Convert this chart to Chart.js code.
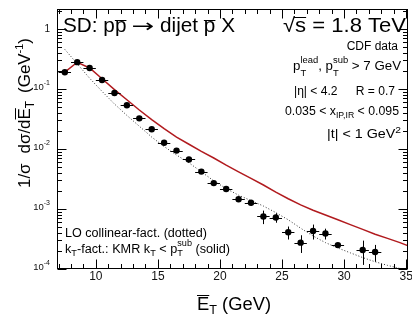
<!DOCTYPE html>
<html><head><meta charset="utf-8">
<script src="https://cdn.jsdelivr.net/npm/chart.js@4.4.1/dist/chart.umd.min.js"></script>
<style>html,body{margin:0;padding:0;background:#fff;overflow:hidden}#wrap{width:412px;height:322px}</style>
</head><body><div id="wrap"><canvas id="c" width="412" height="322"></canvas></div>
<script>
// ---- data ----
const binCenters = [7.5,8.5,9.5,10.5,11.5,12.5,13.5,14.5,15.5,16.5,17.5,18.5,19.5,20.5,21.5,22.5,23.5,24.5,25.5,26.5,27.5,28.5,29.5,31.5,32.5];
const cdfValues  = [0.19,0.28,0.224,0.141,0.0858,0.0536,0.0324,0.0213,0.0127,0.0094,0.0067,0.0042,0.0027,0.00215,0.00145,0.00127,0.00075,0.00072,0.00041,0.000275,0.00043,0.00039,0.00025,0.000207,0.000192];
const cdfErrors  = [0.008,0.01,0.008,0.005,0.003,0.002,0.0012,0.0008,0.0005,0.0004,0.0003,0.0002,0.00015,0.00013,0.00012,0.00013,0.00019,0.00013,0.0001,0.00009,0.00012,0.00008,0.00002,0.00009,0.00006];
const binHalfWidth = 0.5;
const curveX   = [7.5,8.5,9.5,10.5,11.5,12.5,13.5,14.5,15.5,16.5,17.5,18.5,19.5,20.5,21.5,22.5,23.5,24.5,25.5,26.5,27.5,28.5,29.5,30.5,31.5,32.5,33.5,34.5,35.5];
const kmrSolid = [0.191,0.279,0.224,0.148,0.0977,0.0661,0.0447,0.0309,0.0219,0.0158,0.0120,0.00912,0.00708,0.00537,0.00417,0.00324,0.00251,0.00191,0.00148,0.00117,0.000955,0.000794,0.000661,0.000550,0.000457,0.000380,0.000324,0.000275,0.000229];
const loDotted = [0.457,0.263,0.151,0.0912,0.0562,0.0363,0.0240,0.0158,0.0110,0.00794,0.00589,0.00417,0.00295,0.00219,0.00170,0.00138,0.00112,0.000871,0.000661,0.000479,0.000355,0.000275,0.000224,0.000186,0.000155,0.000132,0.000115,0.000102,0.0000912];
const xTickLabels = [10,15,20,25,30,35];
const yTickLabels = [{v:1,m:'1',e:''},{v:0.1,m:'10',e:'-1'},{v:0.01,m:'10',e:'-2'},{v:0.001,m:'10',e:'-3'},{v:0.0001,m:'10',e:'-4'}];
const xRange = [6.87, 35.15];
const yRange = [1e-4, 2.154];

const FONT = '"Liberation Sans", Arial, Helvetica, sans-serif';
function fnt(p){ return p.f + 'px ' + (p.ff || FONT); }
function partWidth(ctx, p){
  if (p.gap) return p.gap;
  if (p.st) return Math.max.apply(null, p.st.map(q => partWidth(ctx, q)));
  ctx.font = fnt(p); return ctx.measureText(p.t).width * (p.sx || 1);
}
function drawRich(ctx, parts, x, y, align, fitW){
  let total = 0; parts.forEach(p => total += partWidth(ctx, p));
  const sx = fitW ? fitW / total : 1;
  const shown = total * sx;
  const left = align === 'right' ? x - shown : (align === 'center' ? x - shown/2 : x);
  ctx.save();
  ctx.translate(left, y); ctx.scale(sx, 1);
  ctx.textAlign = 'left'; ctx.textBaseline = 'alphabetic';
  let cx = 0;
  const drawOne = (p, px) => {
    ctx.font = fnt(p);
    const w = ctx.measureText(p.t).width * (p.sx || 1);
    ctx.save(); ctx.translate(px, (p.dy || 0)); ctx.scale(p.sx || 1, 1);
    ctx.fillText(p.t, 0, 0);
    ctx.restore();
    if (p.ov){
      ctx.beginPath(); ctx.lineWidth = 1;
      ctx.moveTo(px + (p.ovl||0), -p.ov + 0.5); ctx.lineTo(px + w + (p.ovr||0), -p.ov + 0.5); ctx.stroke();
    }
  };
  parts.forEach(p => {
    const w = partWidth(ctx, p);
    if (p.st) p.st.forEach(q => drawOne(q, cx));
    else if (!p.gap) drawOne(p, cx);
    cx += w;
  });
  ctx.restore();
}

const rootPlugin = {
  id: 'rootStyle',
  afterDatasetsDraw(chart){
    const ctx = chart.ctx, xs = chart.scales.x, ys = chart.scales.y;
    ctx.save();
    ctx.strokeStyle = '#000'; ctx.lineWidth = 1;
    binCenters.forEach((bx, i) => {
      const px = xs.getPixelForValue(bx), py = ys.getPixelForValue(cdfValues[i]);
      const x0 = xs.getPixelForValue(bx - binHalfWidth), x1 = xs.getPixelForValue(bx + binHalfWidth);
      const y0 = ys.getPixelForValue(cdfValues[i] + cdfErrors[i]), y1 = ys.getPixelForValue(cdfValues[i] - cdfErrors[i]);
      ctx.beginPath();
      ctx.moveTo(x0, Math.round(py)+0.5); ctx.lineTo(x1, Math.round(py)+0.5);
      ctx.moveTo(Math.round(px)+0.5, y0); ctx.lineTo(Math.round(px)+0.5, y1);
      ctx.stroke();
    });
    ctx.restore();
  },
  afterDraw(chart){
    const ctx = chart.ctx, a = chart.chartArea, xs = chart.scales.x, ys = chart.scales.y;
    ctx.save();
    ctx.strokeStyle = '#000'; ctx.fillStyle = '#000'; ctx.lineWidth = 1;
    const L = Math.round(a.left)+0.5, R = Math.round(a.right)-0.5, T = Math.round(a.top)+0.5, B = Math.round(a.bottom)-0.5;
    ctx.strokeRect(L, T, R-L, B-T);
    ctx.beginPath();
    for (let n = -4; n <= 0; n++){
      for (let k = 1; k <= 9; k++){
        const v = k * Math.pow(10, n);
        if (v < yRange[0] || v > yRange[1]) continue;
        const y = Math.round(ys.getPixelForValue(v)) + 0.5;
        const len = k === 1 ? 9 : 4.5;
        ctx.moveTo(L, y); ctx.lineTo(L + len, y);
        ctx.moveTo(R, y); ctx.lineTo(R - len, y);
      }
    }
    for (let v = Math.ceil(xRange[0]); v <= xRange[1]; v++){
      const x = Math.round(xs.getPixelForValue(v)) + 0.5;
      const len = v % 5 === 0 ? 9 : 4.5;
      ctx.moveTo(x, B); ctx.lineTo(x, B - len);
      ctx.moveTo(x, T); ctx.lineTo(x, T + len);
    }
    ctx.stroke();
    ctx.fillStyle = '#111';
    xTickLabels.forEach(v => {
      drawRich(ctx, [{t:String(v), f:12}], xs.getPixelForValue(v), 280, 'center');
    });
    yTickLabels.forEach(o => {
      const y = ys.getPixelForValue(o.v);
      if (o.e) drawRich(ctx, [{t:o.m, f:9.5},{t:o.e, f:7, dy:-5}], 50, y + 1, 'right');
      else drawRich(ctx, [{t:o.m, f:10}], 50, y + 3, 'right');
    });
    ctx.fillStyle = '#000'; ctx.strokeStyle = '#000';
    // titles
    drawRich(ctx, [{t:'SD: p', f:20},{t:'p', f:20, ov:12},{gap:5},{t:'\u2192', f:18, ff:'"DejaVu Sans", sans-serif', sx:1.45},{t:' dijet ', f:20},{t:'p', f:20, ov:12},{t:' X', f:20}], 63, 32, 'left', 172);
    drawRich(ctx, [{t:'\u221A', f:20},{t:'s', f:20, ov:15, ovl:-1},{t:' = 1.8 TeV', f:20}], 406, 32, 'right', 123);
    drawRich(ctx, [{t:'CDF data', f:12}], 398, 50, 'right');
    drawRich(ctx, [{t:'p', f:12},{st:[{t:'lead', f:8.5, dy:-7},{t:'T', f:8.5, dy:6}]},{t:', p', f:12},{st:[{t:'sub', f:8.5, dy:-7},{t:'T', f:8.5, dy:6}]},{t:' > 7 GeV', f:12}], 401, 70, 'right', 108);
    drawRich(ctx, [{t:'|\u03B7| < 4.2', f:12},{gap:18},{t:'R = 0.7', f:12}], 395, 95, 'right', 101);
    drawRich(ctx, [{t:'0.035 < x', f:12},{t:'IP,IR', f:8.5, dy:3},{t:' < 0.095', f:12}], 399, 115, 'right', 114);
    drawRich(ctx, [{t:'|t| < 1 GeV', f:12.5},{t:'2', f:9, dy:-5}], 401, 138, 'right', 74);
    drawRich(ctx, [{t:'LO collinear-fact. (dotted)', f:12.5}], 65, 237, 'left', 142);
    drawRich(ctx, [{t:'k', f:12.5},{t:'T', f:9, dy:3},{t:'-fact.: KMR k', f:12.5},{t:'T', f:9, dy:3},{t:' < p', f:12.5},{st:[{t:'sub', f:9, dy:-7},{t:'T', f:9, dy:3}]},{t:' (solid)', f:12.5}], 65, 253, 'left', 165);
    // axis titles
    drawRich(ctx, [{t:'E', f:17.5, ov:15},{t:'T', f:12, dy:4},{t:' (GeV)', f:17.5}], 197, 310, 'left', 74);
    ctx.save();
    ctx.translate(30, 113); ctx.rotate(-Math.PI/2);
    drawRich(ctx, [{t:'1/\u03C3', f:17},{gap:10},{t:'d\u03C3/d', f:17},{t:'E', f:17, ov:15},{t:'T', f:12, dy:4},{gap:8},{t:'(GeV', f:17},{t:'-1', f:11, dy:-7},{t:')', f:17}], 0, 0, 'center', 150);
    ctx.restore();
    ctx.restore();
  }
};

new Chart(document.getElementById('c').getContext('2d'), {
  type: 'line',
  data: {
    datasets: [
      { label: 'CDF data', data: binCenters.map((x, i) => ({x: x, y: cdfValues[i]})), showLine: false,
        pointRadius: 3.2, pointBackgroundColor: '#000', pointBorderColor: '#000', pointBorderWidth: 0, borderWidth: 0 },
      { label: 'kT-fact. KMR (solid)', data: curveX.map((x, i) => ({x: x, y: kmrSolid[i]})),
        borderColor: '#b11a1e', borderWidth: 1.5, pointRadius: 0, tension: 0, fill: false },
      { label: 'LO collinear-fact. (dotted)', data: curveX.map((x, i) => ({x: x, y: loDotted[i]})),
        borderColor: '#333', borderWidth: 1, borderDash: [1, 2], pointRadius: 0, tension: 0, fill: false }
    ]
  },
  options: {
    responsive: false, animation: false, devicePixelRatio: 1, events: [],
    layout: { padding: { left: 57, top: 9, right: 3.5, bottom: 53 } },
    scales: {
      x: { type: 'linear', min: xRange[0], max: xRange[1], display: false },
      y: { type: 'logarithmic', min: yRange[0], max: yRange[1], display: false }
    },
    plugins: { legend: { display: false }, tooltip: { enabled: false } }
  },
  plugins: [rootPlugin]
});
</script></body></html>
